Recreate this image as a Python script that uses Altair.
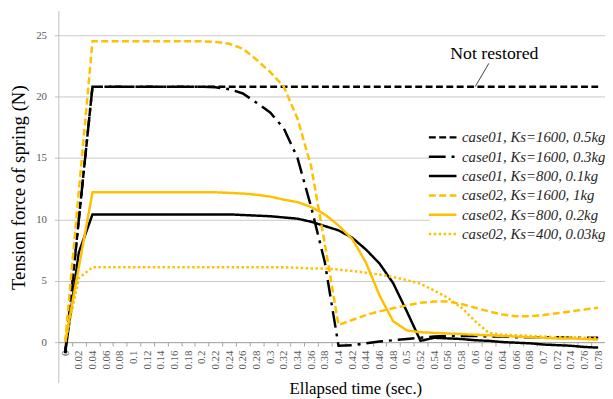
import altair as alt
import pandas as pd

# ---- data ----
t_values = [0, 0.02, 0.04, 0.06, 0.08, 0.1, 0.12, 0.14, 0.16, 0.18,
            0.2, 0.22, 0.24, 0.26, 0.28, 0.3, 0.32, 0.34, 0.36, 0.38,
            0.4, 0.42, 0.44, 0.46, 0.48, 0.5, 0.52, 0.54, 0.56, 0.58,
            0.6, 0.62, 0.64, 0.66, 0.68, 0.7, 0.72, 0.74, 0.76, 0.78]

series_names = [
    "case01, Ks=1600, 0.5kg",
    "case01, Ks=1600, 0.3kg",
    "case01, Ks=800, 0.1kg",
    "case02, Ks=1600, 1kg",
    "case02, Ks=800, 0.2kg",
    "case02, Ks=400, 0.03kg",
]

case01_1600_05 = [-0.9, 10.0, 20.8, 20.8, 20.8, 20.8, 20.8, 20.8, 20.8, 20.8,
                  20.8, 20.8, 20.8, 20.8, 20.8, 20.8, 20.8, 20.8, 20.8, 20.8,
                  20.8, 20.8, 20.8, 20.8, 20.8, 20.8, 20.8, 20.8, 20.8, 20.8,
                  20.8, 20.8, 20.8, 20.8, 20.8, 20.8, 20.8, 20.8, 20.8, 20.8]

case01_1600_03 = [-0.9, 10.0, 20.8, 20.8, 20.8, 20.8, 20.8, 20.8, 20.8, 20.8,
                  20.8, 20.75, 20.6, 20.25, 19.5, 18.7, 17.4, 15.0, 11.0, 6.5,
                  -0.3, -0.25, -0.1, 0.05, 0.15, 0.25, 0.35, 0.45, 0.5, 0.5,
                  0.5, 0.45, 0.45, 0.4, 0.4, 0.4, 0.4, 0.35, 0.35, 0.35]

case01_800_01 = [-0.9, 7.3, 10.4, 10.4, 10.4, 10.4, 10.4, 10.4, 10.4, 10.4,
                 10.4, 10.4, 10.4, 10.35, 10.3, 10.25, 10.15, 10.05, 9.8, 9.45,
                 9.1, 8.5, 7.55, 6.4, 4.8, 2.5, 0.1, 0.35, 0.3, 0.25,
                 0.15, 0.1, 0.0, -0.05, -0.1, -0.2, -0.25, -0.3, -0.4, -0.45]

case02_1600_1 = [0.0, 12.3, 24.5, 24.5, 24.5, 24.5, 24.5, 24.5, 24.5, 24.5,
                 24.5, 24.45, 24.3, 23.9, 23.0, 22.0, 20.8, 18.2, 14.3, 8.0,
                 1.4, 1.8, 2.2, 2.5, 2.75, 3.0, 3.2, 3.3, 3.3, 3.1,
                 2.8, 2.5, 2.25, 2.1, 2.1, 2.2, 2.35, 2.5, 2.65, 2.8]

case02_800_02 = [0.0, 6.1, 12.2, 12.2, 12.2, 12.2, 12.2, 12.2, 12.2, 12.2,
                 12.2, 12.2, 12.15, 12.1, 12.0, 11.85, 11.6, 11.4, 11.0, 10.4,
                 9.5, 8.4, 6.5, 3.8, 1.7, 0.95, 0.8, 0.75, 0.7, 0.65,
                 0.6, 0.55, 0.5, 0.45, 0.4, 0.35, 0.3, 0.3, 0.25, 0.2]

case02_400_003 = [0.0, 5.2, 6.1, 6.1, 6.1, 6.1, 6.1, 6.1, 6.1, 6.1,
                  6.1, 6.1, 6.1, 6.1, 6.1, 6.1, 6.1, 6.05, 6.0, 6.0,
                  5.9, 5.8, 5.65, 5.5, 5.3, 5.05, 4.75, 4.2, 3.6, 2.8,
                  1.7, 0.75, 0.6, 0.55, 0.5, 0.45, 0.4, 0.4, 0.35, 0.35]

series_values = [case01_1600_05, case01_1600_03, case01_800_01,
                 case02_1600_1, case02_800_02, case02_400_003]

y_ticks = [0, 5, 10, 15, 20, 25]

annot_text = "Not restored"
annot_line_t = [0.60, 0.62]
annot_line_v = [20.8, 22.7]
annot_text_t = [0.628]
annot_text_v = [23.05]

# ---- styles ----
colors = ["#000000", "#000000", "#000000", "#FFC000", "#FFC000", "#FFC000"]
dashes = [[7, 3.5], [17, 6, 3, 6], [1, 0], [7, 3.5], [1, 0], [2.5, 2.5]]

rows = []
for k, (name, vals) in enumerate(zip(series_names, series_values)):
    for t, v in zip(t_values, vals):
        rows.append({"t": t, "value": v, "series": name, "order": k})
df = pd.DataFrame(rows)

SERIF = "'Liberation Serif', 'Times New Roman', serif"
x_scale = alt.Scale(domain=[-0.01, 0.79], nice=False, zero=False)
y_scale = alt.Scale(domain=[-3.3, 27], nice=False, zero=False)

legend = alt.Legend(
    title=None,
    orient="none",
    legendX=376,
    legendY=115,
    symbolType="M-3,0H3",
    symbolSize=87,
    symbolStrokeWidth=2.5,
    labelFont=SERIF,
    labelFontStyle="italic",
    labelFontSize=15,
    labelColor="#262626",
    labelOffset=12,
    labelLimit=0,
    rowPadding=3.6,
    fillColor="white",
    padding=6,
)

x_axis = alt.Axis(
    values=t_values,
    format="~g",
    title="Ellapsed time (sec.)",
    titleFont=SERIF,
    titleFontSize=17,
    titleFontWeight="normal",
    titleColor="#000000",
    titleX=301,
    titleY=52,
    titleAlign="center",
    titleBaseline="alphabetic",
    offset=-41,
    labelAngle=270,
    labelAlign="right",
    labelBaseline="middle",
    labelFont=SERIF,
    labelFontSize=11,
    labelColor="#595959",
    labelPadding=4,
    labelOverlap=False,
    labelFlush=False,
    labelBound=False,
    tickSize=4,
    tickColor="#a6a6a6",
    tickOffset=6.92,
    labelOffset=-6.92,
    domainColor="#a6a6a6",
    grid=False,
)

y_axis = alt.Axis(
    values=y_ticks,
    title="Tension force of spring (N)",
    titleFont=SERIF,
    titleFontSize=19,
    titleFontWeight="normal",
    titleColor="#000000",
    titleAngle=270,
    titleX=-34,
    titleY=179,
    titleAlign="center",
    titleBaseline="alphabetic",
    labelFont=SERIF,
    labelFontSize=11,
    labelColor="#595959",
    labelPadding=8,
    labelOverlap=False,
    tickSize=4,
    tickColor="#bfbfbf",
    domainColor="#bfbfbf",
    gridColor="#c8c8c8",
)

lines = alt.Chart(df).mark_line(strokeWidth=2.5).encode(
    x=alt.X("t:Q", scale=x_scale, axis=x_axis),
    y=alt.Y("value:Q", scale=y_scale, axis=y_axis),
    color=alt.Color("series:N", scale=alt.Scale(domain=series_names, range=colors), legend=legend),
    strokeDash=alt.StrokeDash("series:N", scale=alt.Scale(domain=series_names, range=dashes), legend=legend),
    order=alt.Order("order:Q"),
)

ann_line_df = pd.DataFrame({"t": [annot_line_t[0]], "t2": [annot_line_t[1]],
                            "value": [annot_line_v[0]], "value2": [annot_line_v[1]]})
ann_line = alt.Chart(ann_line_df).mark_rule(color="#404040", strokeWidth=1).encode(
    x=alt.X("t:Q", scale=x_scale, axis=x_axis),
    x2="t2:Q",
    y=alt.Y("value:Q", scale=y_scale, axis=y_axis),
    y2="value2:Q",
)

ann_text_df = pd.DataFrame({"t": annot_text_t, "value": annot_text_v, "label": [annot_text]})
ann_text = alt.Chart(ann_text_df).mark_text(
    font=SERIF, fontSize=18, align="center", baseline="alphabetic", color="#000000"
).encode(
    x=alt.X("t:Q", scale=x_scale, axis=x_axis),
    y=alt.Y("value:Q", scale=y_scale, axis=y_axis),
    text="label:N",
)

chart = alt.layer(lines, ann_line, ann_text).properties(
    width=554,
    height=377,
    autosize=alt.AutoSizeParams(type="none"),
    padding={"left": 51, "top": 0, "right": 0, "bottom": 14},
).configure_view(
    stroke=None
).configure_axis(
    labelOverlap=False,
    labelFont=SERIF,
    titleFont=SERIF,
)

chart.save("out.html", embed_options={"renderer": "svg", "actions": False})
